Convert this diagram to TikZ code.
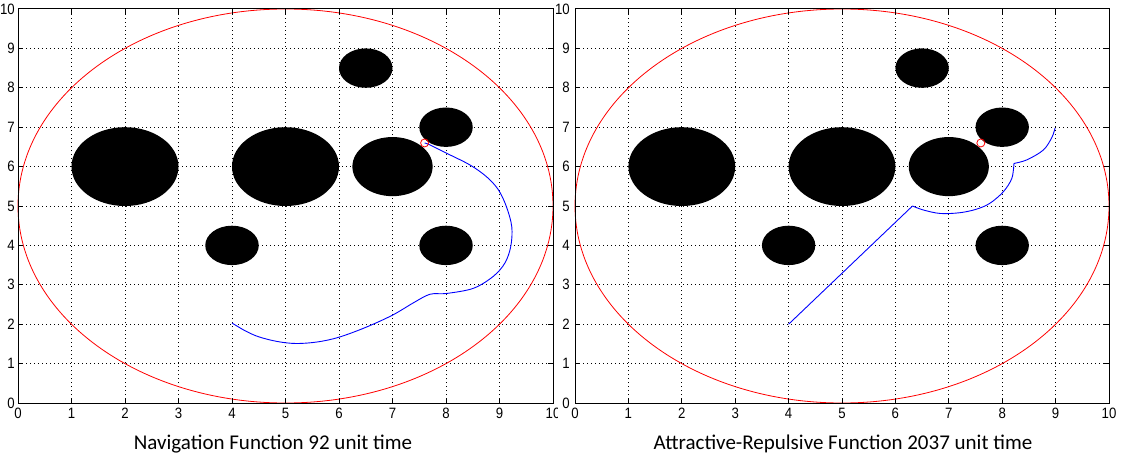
\documentclass[tikz,border=0pt]{standalone}
\usepackage{fontspec}
\setmainfont{Liberation Sans}
\newfontfamily\capfont{Carlito}
\begin{document}
\begin{tikzpicture}[x=1pt,y=1pt,
  gridline/.style={black, line width=0.8pt, dash pattern=on 0.9pt off 3.1pt},
  axisbox/.style={black, line width=1pt},
  boundary/.style={red, line width=0.8pt},
  obstacle/.style={fill=black, draw=none},
  pathline/.style={blue, line width=0.9pt},
  goalmark/.style={red, line width=0.8pt},
  ticklabel/.style={font=\fontsize{15}{15}\selectfont, inner sep=0pt, xscale=0.88},
  captionlabel/.style={font=\capfont\fontsize{21}{21}\selectfont, inner sep=0pt, anchor=base}]
\useasboundingbox (0,0) rectangle (1124,456);
\fill[white] (0,0) rectangle (1124,456);

% ---------- common panel content ----------
\newcommand\panelbase{%
  \foreach \i in {1,...,9} {
    \draw[gridline] (\i,0) -- (\i,10);
    \draw[gridline] (0,\i) -- (10,\i);
  }
  \fill[obstacle] (2,6) ellipse [x radius=1, y radius=1];
  \fill[obstacle] (5,6) ellipse [x radius=1, y radius=1];
  \fill[obstacle] (7,6) ellipse [x radius=0.75, y radius=0.75];
  \fill[obstacle] (8,7) ellipse [x radius=0.5, y radius=0.5];
  \fill[obstacle] (6.5,8.5) ellipse [x radius=0.5, y radius=0.5];
  \fill[obstacle] (4,4) ellipse [x radius=0.5, y radius=0.5];
  \fill[obstacle] (8,4) ellipse [x radius=0.5, y radius=0.5];
  \draw[boundary] (5,5) ellipse [x radius=5, y radius=5];
}
\newcommand\panelframe{%
  \draw[axisbox] (0,0) rectangle (10,10);
  \foreach \i in {1,...,9} {
    \draw[axisbox] (\i,0) -- ++(0,0.127);
    \draw[axisbox] (\i,10) -- ++(0,-0.127);
    \draw[axisbox] (0,\i) -- ++(0.093,0);
    \draw[axisbox] (10,\i) -- ++(-0.093,0);
  }
}

% ---------- left panel: navigation function ----------
\begin{scope}[shift={(18,53)}, x=53.5pt, y=39.4pt]
  \panelbase
  \draw[pathline] plot[smooth, tension=0.55] coordinates {
    (7.6,6.6) (7.70,6.55) (8.01,6.34) (8.45,6.04) (8.76,5.74) (8.98,5.41)
    (9.13,4.98) (9.23,4.47) (9.21,3.97) (9.1,3.55) (8.88,3.21) (8.51,2.91)
    (8.01,2.78) (7.7,2.76) (7.4,2.55) (7.0,2.23) (6.5,1.92) (6.0,1.67)
    (5.6,1.55) (5.2,1.51) (4.85,1.56) (4.5,1.68) (4.25,1.83) (4,2.03)};
  \coordinate (goalL) at (7.6,6.6);
  \draw[goalmark] (goalL) circle [radius=4pt];
  \panelframe
  \foreach \i in {0,...,10} {
    \node[ticklabel, anchor=east] at ([xshift=-3pt]0,\i) {\i};
  }
  \foreach \i in {0,...,9} {
    \node[ticklabel] at ([yshift=-10.5pt]\i,0) {\i};
  }
\end{scope}
\begin{scope}
  \clip (0,0) rectangle (557,456);
  \node[ticklabel] (xtenL) at (553,42.5) {10};
\end{scope}

% ---------- right panel: attractive-repulsive function ----------
\begin{scope}[shift={(575,53)}, x=53.4pt, y=39.4pt]
  \panelbase
  \coordinate (startR) at (4,2);
  \coordinate (kinkR) at (6.32,5.0);
  \draw[pathline] (startR) -- (kinkR);
  \draw[pathline] plot[smooth, tension=0.55] coordinates {
    (6.32,5.0) (6.52,4.9) (6.84,4.81) (7.21,4.83) (7.52,4.92) (7.77,5.07)
    (8.02,5.36) (8.18,5.7) (8.22,6.08)};
  \draw[pathline] plot[smooth, tension=0.55] coordinates {
    (8.22,6.08) (8.46,6.17) (8.77,6.42) (8.93,6.74) (8.99,6.98)};
  \coordinate (goalR) at (7.6,6.6);
  \draw[goalmark] (goalR) circle [radius=4pt];
  \panelframe
  \foreach \i in {0,...,10} {
    \node[ticklabel, anchor=east] at ([xshift=-5pt]0,\i) {\i};
    \node[ticklabel] at ([yshift=-10.5pt]\i,0) {\i};
  }
\end{scope}

% ---------- captions ----------
\node[captionlabel] (capL) at (273,7) {Navigation Function 92 unit time};
\node[captionlabel] (capR) at (843,7) {Attractive-Repulsive Function 2037 unit time};
\end{tikzpicture}
\end{document}
